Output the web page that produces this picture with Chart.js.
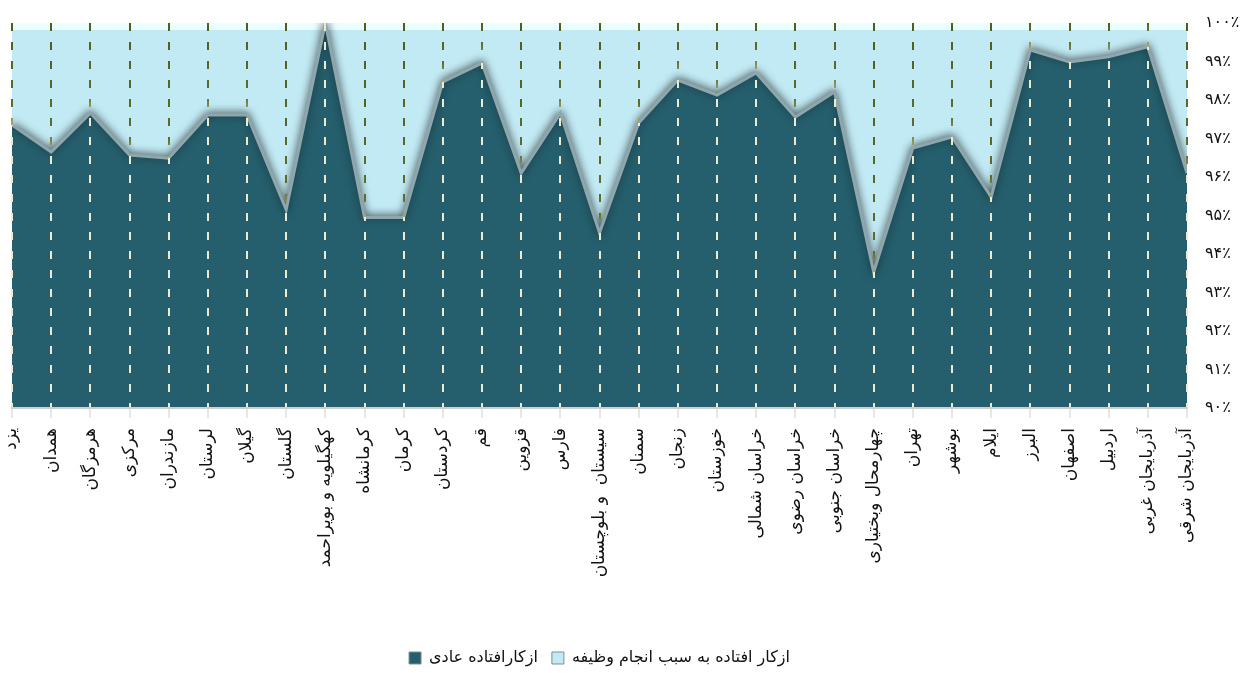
<!DOCTYPE html>
<html lang="fa">
<head>
<meta charset="utf-8">
<script src="https://cdn.jsdelivr.net/npm/chart.js@4.4.1/dist/chart.umd.min.js"></script>
<style>
  html, body { margin: 0; padding: 0; background: #ffffff; }
  #wrap { width: 1251px; height: 673px; }
</style>
</head>
<body>
<div id="wrap"><canvas id="c" width="1251" height="673"></canvas></div>
<script>
const categories = [
  'یزد', 'همدان', 'هرمزگان', 'مرکزی', 'مازندران', 'لرستان', 'گیلان', 'گلستان',
  'کهگیلویه و بویراحمد', 'کرمانشاه', 'کرمان', 'کردستان', 'قم', 'قزوین', 'فارس',
  'سیستان  و بلوچستان', 'سمنان', 'زنجان', 'خوزستان', 'خراسان شمالی', 'خراسان رضوی',
  'خراسان جنوبی', 'چهارمحال وبختیاری', 'تهران', 'بوشهر', 'ایلام', 'البرز', 'اصفهان',
  'اردبیل', 'آذربایجان غربی', 'آذربایجان شرقی'
];
const seriesNames = ['ازکارافتاده عادی', 'ازکار افتاده به سبب انجام وظیفه'];
const normalDisabled = [
  97.35, 96.65, 97.66, 96.57, 96.49, 97.61, 97.61, 95.15,
  100.00, 94.95, 94.95, 98.47, 98.96, 96.10, 97.66,
  94.55, 97.40, 98.52, 98.13, 98.70, 97.56,
  98.21, 93.53, 96.75, 97.04, 95.48, 99.30, 98.99,
  99.12, 99.38, 96.10
];
const dutyDisabled = [
  2.65, 3.35, 2.34, 3.43, 3.51, 2.39, 2.39, 4.85,
  0.00, 5.05, 5.05, 1.53, 1.04, 3.90, 2.34,
  5.45, 2.60, 1.48, 1.87, 1.30, 2.44,
  1.79, 6.47, 3.25, 2.96, 4.52, 0.70, 1.01,
  0.88, 0.62, 3.90
];
const yTickLabels = ['۹۰٪', '۹۱٪', '۹۲٪', '۹۳٪', '۹۴٪', '۹۵٪', '۹۶٪', '۹۷٪', '۹۸٪', '۹۹٪', '۱۰۰٪'];

const DARK = '#255e6c';
const LIGHT = '#c2eaf4';
const FONT = "'DejaVu Sans', sans-serif";

// vertical gridline colour: olive above the dark area, cream inside it
function gridColor(c) {
  const chart = c.chart;
  const area = chart.chartArea;
  if (!area || c.type !== 'tick' || !chart.scales.y) return '#5a6a28';
  const yPix = chart.scales.y.getPixelForValue(normalDisabled[c.index]);
  let t = (yPix - area.top) / (area.bottom - area.top);
  t = Math.max(0, Math.min(1, t));
  const g = chart.ctx.createLinearGradient(0, area.top, 0, area.bottom);
  g.addColorStop(0, '#4e5e1c');
  g.addColorStop(Math.max(0, t - 0.05), '#5e6d2c');
  g.addColorStop(t, '#a9a97a');
  g.addColorStop(t, '#ecebcf');
  g.addColorStop(1, '#ecebcf');
  return g;
}

// soft shadow cast by the dark area onto the light one
const shadowPlugin = {
  id: 'edgeShadow',
  afterDatasetDraw(chart, args) {
    const ctx = chart.ctx;
    if (args.index === 1) {
      ctx.save();
      ctx.shadowColor = 'rgba(0,0,0,0.55)';
      ctx.shadowBlur = 9;
      ctx.shadowOffsetX = 0;
      ctx.shadowOffsetY = -1;
    } else if (args.index === 0) {
      ctx.restore();
    }
  }
};

new Chart(document.getElementById('c'), {
  type: 'line',
  data: {
    labels: categories,
    datasets: [
      {
        label: seriesNames[0],
        data: normalDisabled,
        backgroundColor: DARK,
        borderColor: '#8ea6ac',
        borderWidth: 3,
        fill: 'origin',
        tension: 0,
        pointRadius: 0,
        clip: 0
      },
      {
        label: seriesNames[1],
        data: dutyDisabled,
        backgroundColor: LIGHT,
        borderColor: '#eafdff',
        borderWidth: 14,
        fill: '-1',
        tension: 0,
        pointRadius: 0,
        clip: 0
      }
    ]
  },
  options: {
    responsive: false,
    animation: false,
    events: [],
    layout: { padding: { top: 23, left: 12, right: 0, bottom: -3 } },
    scales: {
      x: {
        offset: false,
        grid: {
          z: 1,
          color: gridColor,
          lineWidth: 2,
          borderDash: [8, 11],
          tickBorderDash: [],
          tickColor: '#cfcfcf',
          tickWidth: 1,
          tickLength: 10,
          drawTicks: true
        },
        border: { display: true, color: '#cfcfcf', width: 2, dash: [8, 11], z: 1 },
        ticks: {
          autoSkip: false,
          minRotation: 90,
          maxRotation: 90,
          padding: 10,
          color: '#111111',
          font: { family: FONT, size: 17 }
        },
        afterFit(scale) { scale.height = 228; }
      },
      y: {
        position: 'right',
        stacked: true,
        min: 90,
        max: 100,
        grid: { display: false, drawTicks: false },
        border: { display: false },
        ticks: {
          stepSize: 1,
          padding: 18,
          color: '#111111',
          font: { family: FONT, size: 16, lineHeight: 0.6 },
          callback: (v) => yTickLabels[Math.round(v - 90)]
        },
        afterFit(scale) { scale.width = 64; }
      }
    },
    plugins: {
      tooltip: { enabled: false },
      legend: {
        position: 'bottom',
        fullSize: false,
        labels: {
          boxWidth: 12,
          boxHeight: 12,
          padding: 14,
          color: '#111111',
          font: { family: FONT, size: 16 },
          generateLabels(chart) {
            const items = Chart.defaults.plugins.legend.labels.generateLabels(chart);
            items.forEach((it) => { it.strokeStyle = '#7c8f94'; it.lineWidth = 1; });
            return items;
          }
        }
      }
    }
  },
  plugins: [shadowPlugin]
});
</script>
</body>
</html>
